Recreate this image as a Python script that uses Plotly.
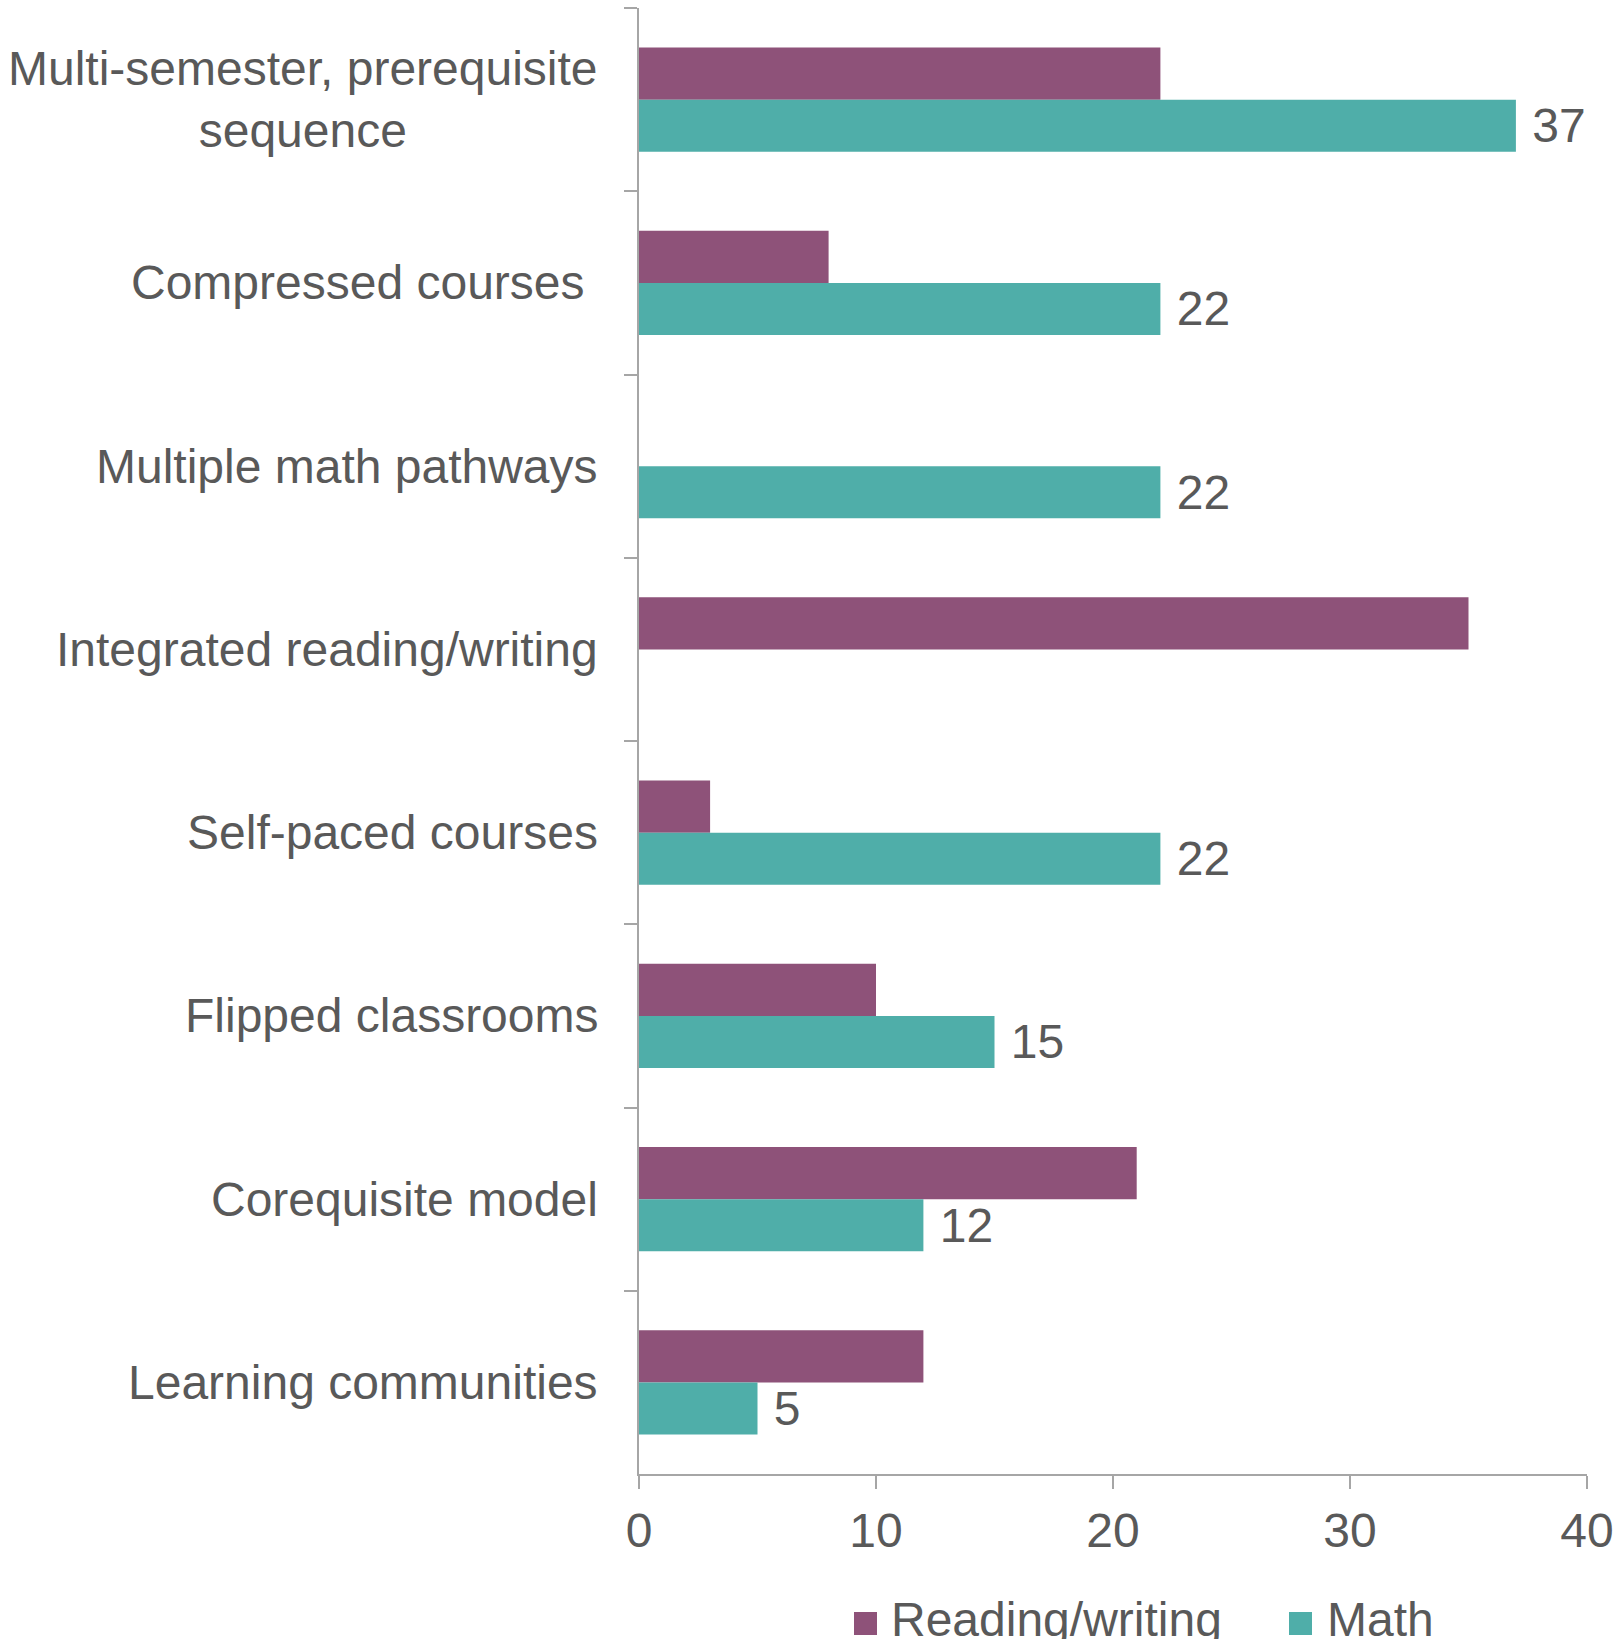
import plotly.graph_objects as go

# Developmental education models: number of reforms by subject
categories = [
    "Multi-semester, prerequisite<br>sequence",
    "Compressed courses\u00a0",
    "Multiple math pathways",
    "Integrated reading/writing",
    "Self-paced courses",
    "Flipped classrooms",
    "Corequisite model",
    "Learning communities",
]
reading_writing = [22, 8, 0, 35, 3, 10, 21, 12]
math = [37, 22, 22, 0, 22, 15, 12, 5]

series_names = ["Reading/writing", "Math"]
series_colors = ["#8E5279", "#4FAEA9"]
x_ticks = [0, 10, 20, 30, 40]

FONT = "Liberation Sans, Arial, sans-serif"
TEXT_COLOR = "#595959"
AXIS_COLOR = "#A6A6A6"
FONT_SIZE = 48

W, H = 1613, 1639
L, R, T, B = 639, 26, 8, 165
plot_w = W - L - R
plot_h = H - T - B

fig = go.Figure()
fig.add_trace(go.Bar(
    y=categories, x=reading_writing, orientation="h",
    name=series_names[0], marker=dict(color=series_colors[0], line=dict(width=0)),
    showlegend=False,
))
fig.add_trace(go.Bar(
    y=categories, x=math, orientation="h",
    name=series_names[1], marker=dict(color=series_colors[1], line=dict(width=0)),
    text=[f"\u00a0{v}" if v else "" for v in math],
    textposition="outside", cliponaxis=False, constraintext="none",
    textfont=dict(family=FONT, size=FONT_SIZE, color=TEXT_COLOR),
    showlegend=False,
))

# Category labels, centre-aligned and right-anchored beside the axis
annotations = []
for cat in categories:
    annotations.append(dict(
        x=(600 - L) / plot_w, xref="paper", xanchor="right",
        y=cat, yref="y", yanchor="middle",
        text=cat, showarrow=False, align="center",
        font=dict(family=FONT, size=FONT_SIZE, color=TEXT_COLOR),
    ))

# Legend drawn below the axis
legend_items = [(854, 889), (1289, 1325)]
shapes = []
for (sq_x, txt_x), name, color in zip(legend_items, series_names, series_colors):
    shapes.append(dict(
        type="rect", xref="paper", yref="paper",
        x0=(sq_x - L) / plot_w, x1=(sq_x + 23 - L) / plot_w,
        y0=(T + plot_h - 1635) / plot_h, y1=(T + plot_h - 1612) / plot_h,
        fillcolor=color, line=dict(width=0),
    ))
    annotations.append(dict(
        x=(txt_x - L) / plot_w, xref="paper", xanchor="left",
        y=(T + plot_h - 1619) / plot_h, yref="paper", yanchor="middle",
        text=name, showarrow=False,
        font=dict(family=FONT, size=FONT_SIZE, color=TEXT_COLOR),
    ))

fig.update_layout(
    width=W, height=H,
    margin=dict(l=L, r=R, t=T, b=B, pad=0, autoexpand=False),
    paper_bgcolor="white", plot_bgcolor="white",
    barmode="group", bargap=0.43, bargroupgap=0,
    font=dict(family=FONT, size=FONT_SIZE, color=TEXT_COLOR),
    annotations=annotations, shapes=shapes,
    showlegend=False,
    xaxis=dict(
        range=[0, 40], tickvals=x_ticks, ticktext=[str(v) for v in x_ticks],
        showgrid=False, zeroline=False, automargin=False,
        showline=True, linecolor=AXIS_COLOR, linewidth=2,
        ticks="outside", ticklen=13, tickwidth=1.5, tickcolor=AXIS_COLOR,
        ticklabeloverflow="allow",
        tickfont=dict(family=FONT, size=FONT_SIZE, color=TEXT_COLOR),
    ),
    yaxis=dict(
        autorange="reversed", showgrid=False, zeroline=False, automargin=False,
        showline=True, linecolor=AXIS_COLOR, linewidth=2,
        ticks="outside", ticklen=13, tickwidth=1.5, tickcolor=AXIS_COLOR,
        tickson="boundaries", showticklabels=False,
    ),
)

fig.write_html("out.html")
